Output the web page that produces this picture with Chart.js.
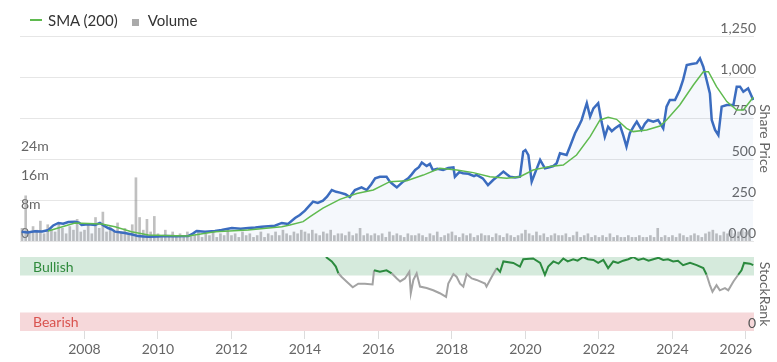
<!DOCTYPE html>
<html lang="en">
<head>
    <meta charset="UTF-8">
    <title>Share Price and StockRank</title>
    <style>
        body {
            margin: 0;
            background-color: #fff;
            font-family: Lato, sans-serif;
        }
        .wrap {
            position: relative;
            width: 777px;
            height: 362px;
            overflow: hidden;
        }
        #priceChart {
            position: absolute;
            left: 0;
            top: 0;
        }
        #rankChart {
            position: absolute;
            left: 0;
            top: 245px;
        }
        .legend {
            position: absolute;
            top: 11px;
            left: 30px;
            font-size: 15px;
            color: #333;
            display: flex;
            align-items: center;
            white-space: nowrap;
        }
        .legend .line {
            display: inline-block;
            width: 12px;
            height: 2px;
            background-color: #5fba4f;
            margin-right: 6px;
        }
        .legend .square {
            display: inline-block;
            width: 7px;
            height: 7px;
            background-color: #aaa;
            margin-left: 14px;
            margin-right: 9px;
            position: relative;
            top: 2px;
        }
    </style>
    <script src="https://cdn.jsdelivr.net/npm/chart.js"></script>
</head>
<body>
    <div class="wrap">
        <canvas id="priceChart" width="777" height="245"></canvas>
        <canvas id="rankChart" width="777" height="117"></canvas>
        <div class="legend">
            <span class="line"></span><span>SMA (200)</span>
            <span class="square"></span><span>Volume</span>
        </div>
    </div>

    <script>
        // x range in decimal years
        const xMin = 2006.245;
        const xMax = 2026.22;
        const yearTicks = [2008, 2010, 2012, 2014, 2016, 2018, 2020, 2022, 2024, 2026];

        const priceTicks = [0, 250, 500, 750, 1000, 1250];
        const volumeTicks = [0, 8, 16, 24];   // millions
        const rankTicks = [0];
        const bullishRange = [75, 100];
        const bearishRange = [0, 25];

        const priceDates = [2006.29, 2006.45, 2006.65, 2006.85, 2007.02, 2007.15, 2007.29, 2007.42, 2007.56, 2007.74,
            2007.85, 2007.92, 2008.10, 2008.29, 2008.42, 2008.52, 2008.64, 2008.75, 2008.83, 2009.00,
            2009.10, 2009.30, 2009.46, 2009.60, 2009.74, 2010.00, 2010.19, 2010.50, 2010.82, 2010.95,
            2011.05, 2011.28, 2011.55, 2011.73, 2012.01, 2012.25, 2012.46, 2012.65, 2012.82, 2013.00,
            2013.18, 2013.37, 2013.54, 2013.73, 2013.86, 2014.00, 2014.14, 2014.22, 2014.35, 2014.49,
            2014.60, 2014.73, 2014.85, 2014.95, 2015.10, 2015.22, 2015.36, 2015.54, 2015.68, 2015.80,
            2015.91, 2016.04, 2016.22, 2016.31, 2016.40, 2016.50, 2016.67, 2016.81, 2016.90, 2017.00,
            2017.10, 2017.18, 2017.31, 2017.40, 2017.48, 2017.60, 2017.76, 2017.90, 2018.04, 2018.08,
            2018.20, 2018.30, 2018.45, 2018.60, 2018.67, 2018.84, 2018.98, 2019.12, 2019.28, 2019.40,
            2019.50, 2019.58, 2019.72, 2019.85, 2019.94, 2020.00, 2020.08, 2020.17, 2020.31, 2020.40,
            2020.53, 2020.65, 2020.76, 2020.85, 2020.94, 2021.12, 2021.21, 2021.35, 2021.45, 2021.53,
            2021.60, 2021.67, 2021.76, 2021.85, 2021.98, 2022.07, 2022.16, 2022.25, 2022.35, 2022.44,
            2022.57, 2022.66, 2022.75, 2022.84, 2022.95, 2023.03, 2023.16, 2023.25, 2023.34, 2023.48,
            2023.61, 2023.75, 2023.84, 2023.93, 2024.07, 2024.20, 2024.29, 2024.39, 2024.52, 2024.66,
            2024.75, 2024.84, 2024.93, 2025.02, 2025.07, 2025.16, 2025.25, 2025.34, 2025.48, 2025.66,
            2025.75, 2025.84, 2025.93, 2026.06, 2026.20];
        const priceValues = [57, 52, 60, 58, 67, 95, 110, 105, 116, 118,
            112, 98, 102, 98, 110, 95, 79, 70, 57, 52,
            49, 40, 30, 28, 26, 28, 30, 29, 30, 45,
            61, 57, 61, 67, 79, 75, 79, 82, 87, 90,
            93, 110, 104, 140, 159, 185, 220, 240, 232, 246,
            270, 311, 300, 295, 285, 268, 311, 327, 311, 345,
            382, 392, 392, 362, 345, 327, 362, 382, 405, 433,
            450, 478, 457, 470, 433, 440, 433, 445, 449, 392,
            420, 413, 410, 395, 403, 382, 341, 372, 400, 423,
            405, 392, 388, 392, 545, 555, 524, 362, 443, 494,
            443, 450, 457, 474, 535, 524, 575, 657, 700, 738,
            790, 840, 758, 809, 840, 728, 636, 697, 670, 687,
            707, 646, 575, 657, 700, 728, 677, 715, 738, 728,
            738, 687, 819, 860, 860, 921, 982, 1073, 1079, 1084,
            1114, 1063, 982, 900, 738, 677, 646, 819, 829, 829,
            941, 941, 910, 931, 860];

        const smaDates = [2007.01, 2007.74, 2008.47, 2008.83, 2009.28, 2009.74, 2010.19, 2010.82, 2011.55, 2012.45,
            2013.37, 2013.59, 2013.95, 2014.14, 2014.49, 2014.95, 2015.41, 2015.86, 2016.31, 2016.77,
            2017.22, 2017.67, 2018.13, 2018.58, 2019.03, 2019.49, 2019.85, 2020.21, 2020.67, 2021.03,
            2021.39, 2021.76, 2022.03, 2022.25, 2022.48, 2022.75, 2022.93, 2023.30, 2023.66, 2023.84,
            2024.20, 2024.57, 2024.84, 2024.98, 2025.20, 2025.48, 2025.75, 2025.93, 2026.20];
        const smaValues = [61, 110, 104, 87, 57, 37, 33, 30, 57, 67,
            87, 98, 118, 148, 200, 254, 290, 311, 362, 368,
            402, 443, 433, 417, 392, 382, 392, 433, 455, 463,
            524, 636, 738, 754, 742, 687, 667, 677, 701, 738,
            829, 951, 1032, 1032, 941, 850, 799, 799, 876];

        // volume in millions, one bar every 0.1 year from 2006.3
        const volumeStart = 2006.3;
        const volumeValues = [3.5, 12.5, 2.5, 4, 3, 5.5, 2,
            4.5, 3, 2.5, 5, 3.5, 2, 4, 3, 6, 2.5,
            3, 4.5, 2, 6.5, 3.5, 8, 2.5, 4, 3, 5,
            2.5, 3.5, 2, 4.5, 17.5, 6.5, 3, 6, 2.5, 6.8,
            2, 1.5, 3, 1.5, 2.5, 1.5, 2, 1, 2.5, 1.5,
            1.5, 3, 1, 2, 1.5, 2.5, 1, 2, 1.5, 3,
            1.5, 2, 1, 2.5, 1.5, 2, 1, 1.5, 2.5, 1,
            2, 1.5, 2.5, 1.5, 3, 2, 1.5, 2.5, 2, 3,
            2.5, 2, 3, 2, 1.5, 2.5, 2, 3, 1.5, 2,
            2, 1.5, 2.5, 1.5, 2, 3.5, 1.5, 2, 1.5, 2,
            1.5, 2, 1, 2.5, 1.5, 2, 1.5, 1, 2, 1.5,
            1.5, 2, 1.5, 1, 2, 1.5, 2.5, 1, 1.5, 2,
            2.5, 1.5, 1, 2, 1.5, 2, 1, 1.5, 2, 1.5,
            1.5, 1, 2, 1.5, 1, 2, 1.5, 1, 1.5, 2,
            3, 2, 1.5, 2.5, 1.5, 2, 1, 1.5, 2, 1.5,
            1.5, 2, 1, 1.5, 2.5, 1, 1.5, 2, 1, 1.5,
            1, 1.5, 1, 2, 1, 1.5, 1, 1, 1.5, 1,
            1, 1.5, 1, 1, 1.5, 1, 3.5, 1, 1.5, 1,
            1.5, 1, 2, 1.5, 1, 1.5, 2, 1.5, 1, 2,
            2.5, 3, 2, 1.5, 2.5, 2, 3, 2, 2.5, 3,
            2.5, 3];

        const rankDates = [2014.57, 2014.73, 2014.84, 2014.91, 2015.00, 2015.13, 2015.30, 2015.45, 2015.63, 2015.84,
            2015.88, 2016.04, 2016.22, 2016.36, 2016.50, 2016.59, 2016.72, 2016.84, 2016.88, 2016.95,
            2017.04, 2017.13, 2017.31, 2017.49, 2017.67, 2017.84, 2017.90, 2018.04, 2018.13, 2018.22,
            2018.31, 2018.40, 2018.54, 2018.67, 2018.90, 2018.94, 2019.08, 2019.22, 2019.31, 2019.40,
            2019.67, 2019.85, 2019.94, 2020.21, 2020.40, 2020.53, 2020.62, 2020.76, 2020.90, 2021.03,
            2021.15, 2021.30, 2021.42, 2021.57, 2021.70, 2021.85, 2021.98, 2022.12, 2022.25, 2022.39,
            2022.52, 2022.66, 2022.80, 2022.93, 2023.07, 2023.21, 2023.35, 2023.48, 2023.62, 2023.75,
            2023.88, 2024.02, 2024.15, 2024.29, 2024.48, 2024.66, 2024.84, 2024.93, 2025.02, 2025.09,
            2025.20, 2025.29, 2025.43, 2025.52, 2025.66, 2025.79, 2025.88, 2025.95, 2026.11, 2026.20];
        const rankValues = [100, 94, 87, 78, 73, 67, 59, 64, 64, 63,
            82, 80, 82, 78, 71, 67, 71, 80, 51, 69,
            78, 60, 58, 55, 51, 46, 64, 77, 73, 64,
            60, 77, 71, 69, 64, 60, 73, 85, 80, 94,
            92, 87, 97, 98, 92, 76, 87, 94, 91, 98,
            94, 97, 95, 100, 97, 96, 92, 96, 85, 94,
            92, 95, 97, 100, 96, 98, 95, 97, 99, 96,
            97, 94, 95, 89, 92, 89, 85, 76, 62, 53,
            62, 55, 58, 55, 67, 76, 82, 92, 91, 89];

        const FONT = 'Lato, sans-serif';
        const LABEL_COLOR = '#666';

        function pairs(xs, ys) {
            return ys.map((y, i) => ({ x: xs[i], y: y }));
        }

        const volumeData = volumeValues.map((v, i) => ({ x: volumeStart + i * 0.1, y: v }));

        function noPad(scale) {
            scale.paddingTop = 0;
            scale.paddingBottom = 0;
        }

        // ---------- top panel: price, SMA, volume ----------
        new Chart(document.getElementById('priceChart'), {
            type: 'line',
            data: {
                datasets: [
                    {
                        label: 'SMA (200)',
                        data: pairs(smaDates, smaValues),
                        borderColor: '#5fba4f',
                        borderWidth: 1.5,
                        pointRadius: 0,
                        yAxisID: 'y',
                        order: 0
                    },
                    {
                        label: 'Share Price',
                        data: pairs(priceDates, priceValues),
                        borderColor: '#3b6cbf',
                        borderWidth: 2.5,
                        pointRadius: 0,
                        fill: 'origin',
                        backgroundColor: 'rgba(59, 108, 191, 0.05)',
                        yAxisID: 'y',
                        order: 1
                    },
                    {
                        type: 'bar',
                        label: 'Volume',
                        data: volumeData,
                        backgroundColor: 'rgba(150, 150, 150, 0.6)',
                        barThickness: 2,
                        yAxisID: 'yv',
                        order: 2
                    }
                ]
            },
            options: {
                responsive: false,
                animation: false,
                layout: { padding: { left: 20, top: 36, right: 0, bottom: 4 } },
                plugins: { legend: { display: false }, tooltip: { enabled: false } },
                scales: {
                    x: {
                        type: 'linear',
                        min: xMin,
                        max: xMax,
                        offset: false,
                        grid: { offset: false },
                        display: false
                    },
                    y: {
                        position: 'right',
                        min: 0,
                        max: 1250,
                        afterBuildTicks: s => { s.ticks = priceTicks.map(v => ({ value: v })); },
                        afterFit: s => { s.width = 23; noPad(s); },
                        grid: { color: '#e6e6e6', drawTicks: false },
                        border: { display: false },
                        ticks: {
                            mirror: true,
                            padding: 2,
                            labelOffset: -8,
                            color: LABEL_COLOR,
                            font: { family: FONT, size: 14 },
                            callback: v => v === 0 ? '0.00' : v.toLocaleString('en-US')
                        },
                        title: {
                            display: true,
                            text: 'Share Price',
                            color: LABEL_COLOR,
                            font: { family: FONT, size: 14 }
                        }
                    },
                    yv: {
                        position: 'left',
                        min: 0,
                        max: 56.7,
                        afterBuildTicks: s => { s.ticks = volumeTicks.map(v => ({ value: v })); },
                        afterFit: s => { s.width = 0; noPad(s); },
                        grid: { display: false },
                        border: { display: false },
                        ticks: {
                            mirror: true,
                            padding: 1,
                            labelOffset: -8,
                            color: LABEL_COLOR,
                            font: { family: FONT, size: 14 },
                            callback: v => v === 0 ? '0' : v + 'm'
                        }
                    }
                }
            }
        });

        // ---------- bottom panel: StockRank ----------
        // bands go under everything, so the axis label "0" stays visible
        const bandsPlugin = {
            id: 'bands',
            beforeDraw(chart) {
                const ctx = chart.ctx;
                const y = chart.scales.y;
                const { left, right } = chart.chartArea;
                const bands = [
                    { range: bullishRange, fill: '#d5eadc', text: 'Bullish', color: '#2f8a3c' },
                    { range: bearishRange, fill: '#f6d8da', text: 'Bearish', color: '#d9534f' }
                ];
                ctx.save();
                bands.forEach(b => {
                    const top = y.getPixelForValue(b.range[1]);
                    const bottom = y.getPixelForValue(b.range[0]);
                    ctx.fillStyle = b.fill;
                    ctx.fillRect(left, top, right - left, bottom - top);
                    ctx.fillStyle = b.color;
                    ctx.font = '14px ' + FONT;
                    ctx.textBaseline = 'middle';
                    ctx.fillText(b.text, left + 13, (top + bottom) / 2 + 1);
                });
                ctx.restore();
            }
        };

        const xLabelsPlugin = {
            id: 'xLabels',
            afterDraw(chart) {
                const ctx = chart.ctx;
                const scale = chart.scales.x;
                const right = chart.chartArea.right - 2;
                ctx.save();
                ctx.font = '14px ' + FONT;
                ctx.fillStyle = LABEL_COLOR;
                ctx.textBaseline = 'middle';
                scale.ticks.forEach(t => {
                    const text = String(t.value);
                    const w = ctx.measureText(text).width;
                    let x = scale.getPixelForValue(t.value) - w / 2;
                    if (x + w > right) x = right - w;
                    ctx.fillText(text, x, scale.top + 18);
                });
                ctx.restore();
            }
        };

        new Chart(document.getElementById('rankChart'), {
            type: 'line',
            data: {
                datasets: [{
                    label: 'StockRank',
                    data: pairs(rankDates, rankValues),
                    borderWidth: 2,
                    pointRadius: 0,
                    borderColor: '#2b8a3e',
                    segment: {
                        borderColor: c => (c.p0.parsed.y >= bullishRange[0] && c.p1.parsed.y >= bullishRange[0]) ? '#2b8a3e' : '#a3a3a3'
                    }
                }]
            },
            options: {
                responsive: false,
                animation: false,
                layout: { padding: { left: 20, top: 12, right: 0, bottom: 0 } },
                plugins: { legend: { display: false }, tooltip: { enabled: false } },
                scales: {
                    x: {
                        type: 'linear',
                        min: xMin,
                        max: xMax,
                        afterBuildTicks: s => { s.ticks = yearTicks.map(v => ({ value: v })); },
                        afterFit: s => { s.height = 31; },
                        grid: { drawOnChartArea: false, drawTicks: true, tickLength: 8, color: '#dcdcdc' },
                        border: { display: false },
                        ticks: { display: false }
                    },
                    y: {
                        position: 'right',
                        min: 0,
                        max: 100,
                        afterBuildTicks: s => { s.ticks = rankTicks.map(v => ({ value: v })); },
                        afterFit: s => { s.width = 23; noPad(s); },
                        grid: { display: false },
                        border: { display: false },
                        ticks: {
                            mirror: true,
                            padding: 2,
                            labelOffset: -8,
                            color: '#555',
                            font: { family: FONT, size: 14 }
                        },
                        title: {
                            display: true,
                            text: 'StockRank',
                            color: LABEL_COLOR,
                            font: { family: FONT, size: 14 }
                        }
                    }
                }
            },
            plugins: [bandsPlugin, xLabelsPlugin]
        });
    </script>
</body>
</html>
